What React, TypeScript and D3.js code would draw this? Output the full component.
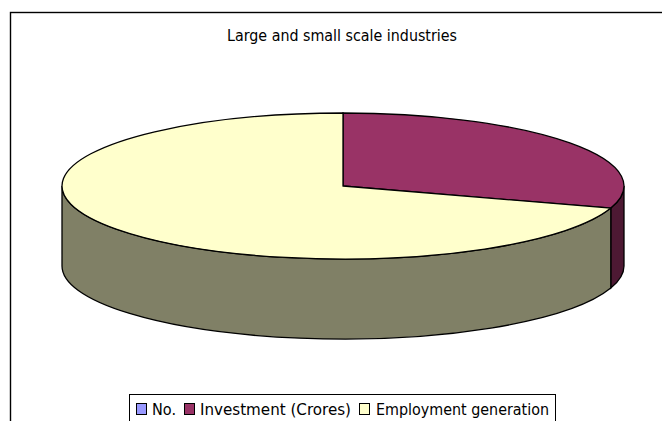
import React from 'react';
import * as d3 from 'd3';

const categories = ['No.', 'Investment (Crores)', 'Employment generation'];
const values = [0, 29.9, 70.1];
const topColors = ['#9999FF', '#993366', '#FFFFCC'];
const wallColors = ['#4D4D80', '#4D1933', '#808066'];
const legendX = [136, 184, 359];
const legendTextX = [152, 200, 376];
const legendTextW = [24, 151, 173];

const W = 662, H = 421;
const cx = 343, cy = 186, rx = 281, ry = 73, depth = 80;

const sx = d3.scaleLinear().domain([-1, 1]).range([cx - rx, cx + rx]);
const sy = d3.scaleLinear().domain([-1, 1]).range([cy - ry, cy + ry]);
const px = (a: number) => sx(Math.sin(a));
const py = (a: number) => sy(-Math.cos(a));

const arcs = d3.pie<number>().sort(null).value(d => d)(values);

function topPath(a0: number, a1: number) {
  const large = a1 - a0 > Math.PI ? 1 : 0;
  return `M${cx},${cy}L${px(a0)},${py(a0)}A${rx},${ry} 0 ${large} 1 ${px(a1)},${py(a1)}Z`;
}
function wallPath(a0: number, a1: number) {
  const s = Math.max(a0, Math.PI / 2), e = Math.min(a1, (3 * Math.PI) / 2);
  if (e <= s) return null;
  return `M${px(s)},${py(s)}A${rx},${ry} 0 0 1 ${px(e)},${py(e)}L${px(e)},${py(e) + depth}A${rx},${ry} 0 0 0 ${px(s)},${py(s) + depth}Z`;
}

export default function App() {
  return (
    <svg width={W} height={H} style={{ position: 'absolute', left: 0, top: 0, background: '#fff' }}>
      <rect x={10.5} y={12.5} width={W + 10} height={H + 10} fill="#fff" stroke="#000" strokeWidth={1.4} />
      <text x={227} y={41} fontFamily="DejaVu Sans" fontSize={15} textLength={230} lengthAdjust="spacingAndGlyphs" fill="#000">
        Large and small scale industries
      </text>
      {arcs.map((d, i) => {
        const p = wallPath(d.startAngle, d.endAngle);
        return p ? <path key={i} d={p} fill={wallColors[i]} stroke="#000" strokeWidth={1.3} /> : null;
      })}
      {arcs.map((d, i) =>
        d.endAngle > d.startAngle ? (
          <path key={i} d={topPath(d.startAngle, d.endAngle)} fill={topColors[i]} stroke="#000" strokeWidth={1.3} />
        ) : null
      )}
      <rect x={129.5} y={394.5} width={426} height={40} fill="#fff" stroke="#000" />
      {categories.map((c, i) => (
        <g key={c}>
          <rect x={legendX[i] + 0.5} y={403.5} width={10} height={11} fill={topColors[i]} stroke="#000" />
          <text x={legendTextX[i]} y={415} fontFamily="DejaVu Sans" fontSize={16} textLength={legendTextW[i]} lengthAdjust="spacingAndGlyphs" fill="#000">
            {c}
          </text>
        </g>
      ))}
    </svg>
  );
}
